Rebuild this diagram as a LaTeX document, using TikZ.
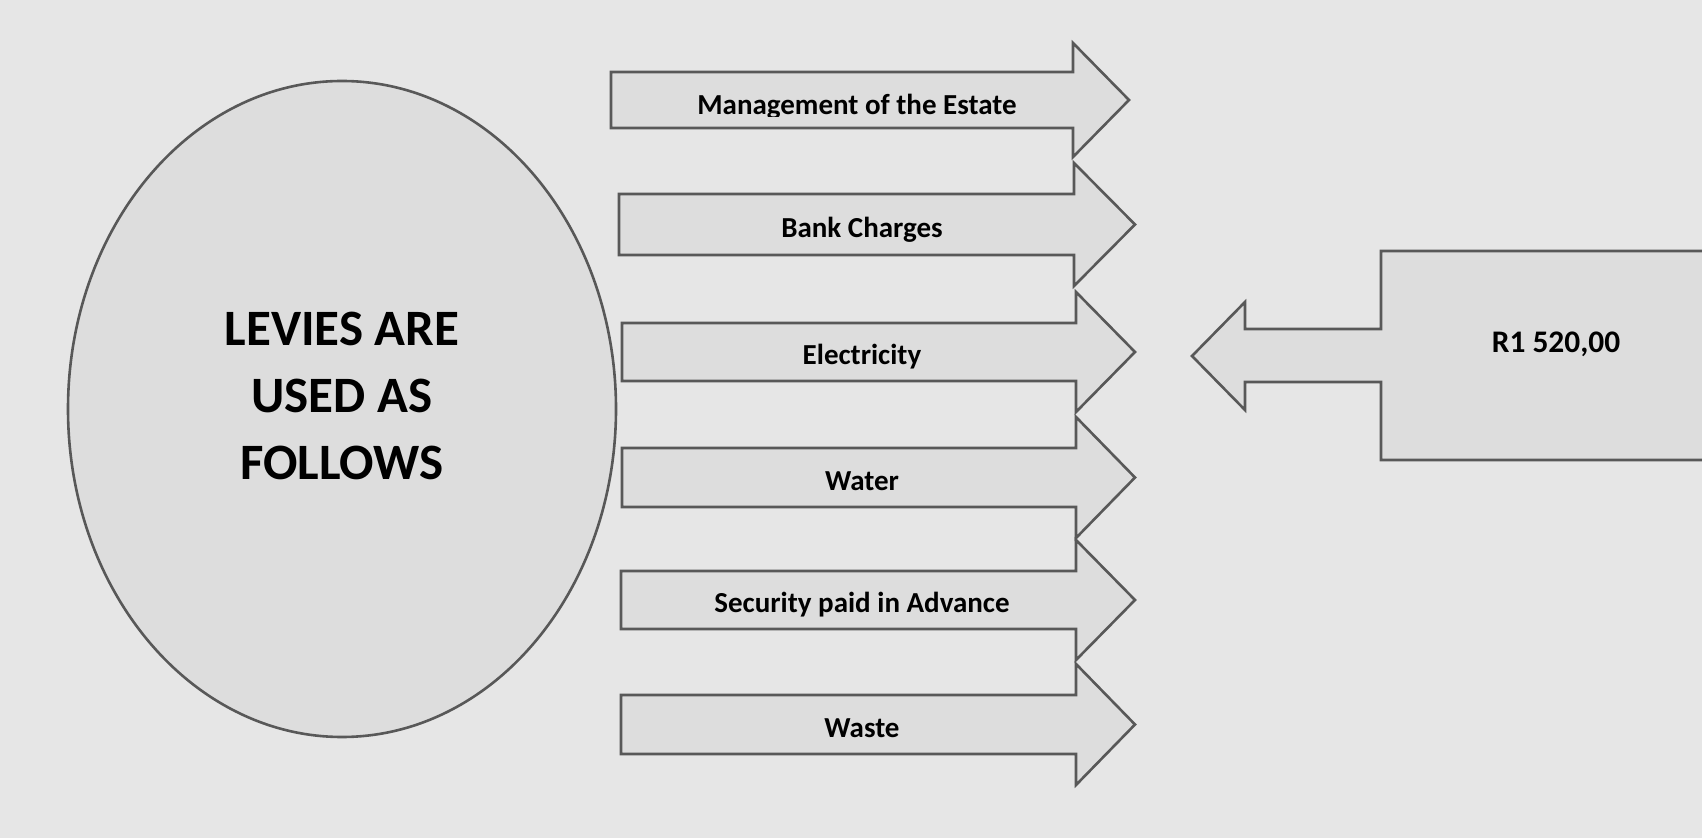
\documentclass[tikz,border=0pt]{standalone}
\usepackage{fontspec}
\setmainfont{Carlito}
\usetikzlibrary{shapes.geometric}
\definecolor{bgcol}{RGB}{230,230,230}
\definecolor{shapefill}{RGB}{221,221,221}
\definecolor{edgecol}{RGB}{88,88,88}

\begin{document}
\begin{tikzpicture}[
        x=0.5pt, y=-0.5pt,
        blockshape/.style={draw=edgecol, fill=shapefill, line width=1.3pt, line join=miter},  % arrows, box and ellipse
        lbl/.style={font=\bfseries\fontsize{14.5}{17}\selectfont, anchor=base, inner sep=0pt},
        amount/.style={font=\bfseries\fontsize{15.7}{18}\selectfont, anchor=base, inner sep=0pt},
        bigtxt/.style={font=\bfseries\fontsize{25.5}{33.5}\selectfont, align=center, inner sep=0pt}
    ]
    % Page area and background
    \clip (0,0) rectangle (1702,838);
    \fill[bgcol] (0,0) rectangle (1702,838);

    % Left ellipse with its title
    \node[blockshape, ellipse, minimum width=274pt, minimum height=328pt] (levies) at (342,409) {};
    \node[bigtxt] (leviestxt) at (342,396) {LEVIES ARE\\USED AS\\FOLLOWS};

    % Six arrows pointing right, each with its item
    \foreach \nm/\lx/\ty/\by/\hx/\tipx/\ext/\txtx/\dy/\cy/\lbl in {
            mgmt/611/72/128/1073/1129/29/857/15/117/Management of the Estate,
            bank/619/194/255/1074/1135/31/862/13/255/Bank Charges,
            elec/622/323/381/1076/1135/31/862/13/381/Electricity,
            water/622/448/507/1076/1135/31/862/13/507/Water,
            secur/621/571/629/1076/1135/31/862/13/629/Security paid in Advance,
            waste/621/695/754/1076/1135/31/862/13/754/Waste} {
        \draw[blockshape] (\lx,\ty) -- (\hx,\ty) -- (\hx,{\ty-\ext}) -- (\tipx,{(\ty+\by)/2})
            -- (\hx,{\by+\ext}) -- (\hx,\by) -- (\lx,\by) -- cycle;
        \begin{scope}
            \clip (\lx,\ty) rectangle (\hx,\cy);
            \node[lbl] (\nm) at (\txtx,{(\ty+\by)/2+\dy}) {\lbl};
        \end{scope}
    }

    % Amount box with arrow pointing left
    \coordinate (amounttip) at (1192,356);
    \draw[blockshape] (amounttip) -- (1245,302) -- (1245,329) -- (1381,329) -- (1381,251)
        -- (1720,251) -- (1720,460) -- (1381,460) -- (1381,382) -- (1245,382) -- (1245,410) -- cycle;
    \node[amount] (amountval) at (1556,353) {R1 520,00};

\end{tikzpicture}
\end{document}
